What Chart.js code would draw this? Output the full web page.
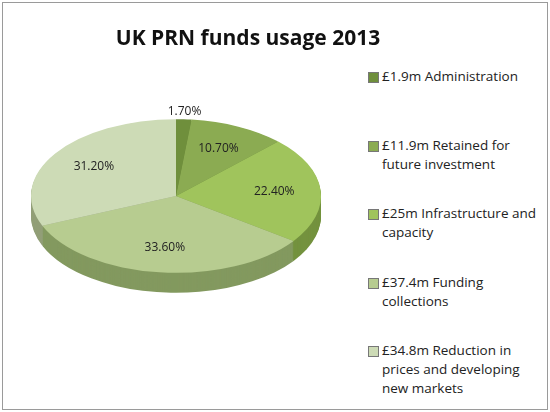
<!DOCTYPE html>
<html>
<head>
<meta charset="utf-8">
<script src="https://cdn.jsdelivr.net/npm/chart.js@4"></script>
<style>
  body { margin: 0; background: #fff; font-family: "Open Sans", "Noto Sans", sans-serif; }
  #frame { position: absolute; left: 2px; top: 2px; width: 544px; height: 406px; border: 1px solid #9a9a9a; overflow: hidden; }
  #title { position: absolute; left: 0; top: 20px; width: 490px; text-align: center; font-size: 21px; font-weight: bold; color: #111; z-index: 2; }
  #wrap { position: absolute; left: 23px; top: 43px; width: 300px; height: 300px; }
  #legend { position: absolute; left: 363px; top: 64px; width: 180px; font-size: 13.5px; color: #222; line-height: 19px; }
  .item { position: relative; padding-left: 16px; height: 68.5px; }
  .sw { position: absolute; left: 2px; top: 5px; width: 9px; height: 9px; border: 1px solid #777; }
</style>
</head>
<body>
<div id="frame">
  <div id="title">UK PRN funds usage 2013</div>
  <div id="wrap"><canvas id="pie" width="300" height="300"></canvas></div>
  <div id="legend"></div>
</div>
<script>
const labels = ['£1.9m Administration', '£11.9m Retained for future investment', '£25m Infrastructure and capacity', '£37.4m Funding collections', '£34.8m Reduction in prices and developing new markets'];
const values = [1.7, 10.7, 22.4, 33.6, 31.2];
const pctLabels = ['1.70%', '10.70%', '22.40%', '33.60%', '31.20%'];
const colors = ['#6f8f3c', '#8bab52', '#a0c45c', '#b7cc90', '#cddbb6'];
const sideColors = ['#55702c', '#64803a', '#74923f', '#83995f', '#929f78'];

const squash = 0.53;
const depth = 20;

const legend = document.getElementById('legend');
labels.forEach((l, i) => {
    const d = document.createElement('div');
    d.className = 'item';
    d.innerHTML = '<span class="sw" style="background:' + colors[i] + '"></span>' + l;
    legend.appendChild(d);
});

const tilt = {
    id: 'tilt',
    beforeDatasetsDraw(chart) {
        const ctx = chart.ctx;
        const arcs = chart.getDatasetMeta(0).data;
        const cx = arcs[0].x, cy = arcs[0].y;
        ctx.save();
        ctx.translate(cx, cy);
        ctx.scale(1, squash);
        ctx.translate(-cx, -cy);
        // side wall of the disc
        for (let d = depth; d > 0; d--) {
            arcs.forEach((a, i) => {
                ctx.beginPath();
                ctx.moveTo(a.x, a.y + d / squash);
                ctx.arc(a.x, a.y + d / squash, a.outerRadius, a.startAngle, a.endAngle);
                ctx.closePath();
                ctx.fillStyle = sideColors[i];
                ctx.fill();
            });
        }
    },
    afterDatasetsDraw(chart) {
        const ctx = chart.ctx;
        ctx.restore();
        const arcs = chart.getDatasetMeta(0).data;
        ctx.save();
        ctx.font = '12px "Open Sans", sans-serif';
        ctx.fillStyle = '#222';
        ctx.textAlign = 'center';
        ctx.textBaseline = 'middle';
        arcs.forEach((a, i) => {
            const mid = (a.startAngle + a.endAngle) / 2;
            const f = i === 0 ? 1.1 : 0.68;
            const x = a.x + Math.cos(mid) * a.outerRadius * f;
            const y = a.y + Math.sin(mid) * a.outerRadius * f * squash;
            ctx.fillText(pctLabels[i], x, y);
        });
        ctx.restore();
    }
};

new Chart(document.getElementById('pie'), {
    type: 'pie',
    data: {
        labels: labels,
        datasets: [{
            data: values,
            backgroundColor: colors,
            borderWidth: 0
        }]
    },
    options: {
        responsive: false,
        animation: false,
        layout: { padding: 5 },
        plugins: { legend: { display: false }, tooltip: { enabled: false } }
    },
    plugins: [tilt]
});
</script>
</body>
</html>
